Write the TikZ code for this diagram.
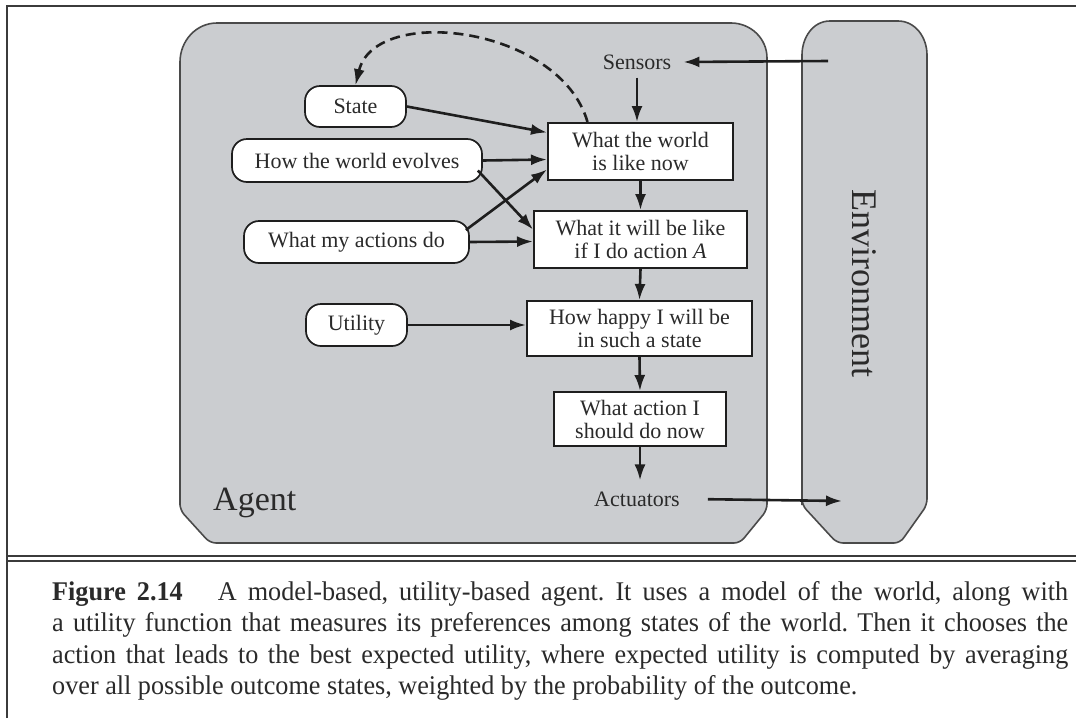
\documentclass[tikz,border=0pt]{standalone}
\usepackage{fontspec}
\setmainfont{Liberation Serif}
\newfontfamily\capfont{Liberation Serif}[FakeStretch=0.97]
\usetikzlibrary{arrows.meta}
\definecolor{agentgray}{HTML}{CBCDD0}
\definecolor{edgegray}{HTML}{4A4A4A}
\definecolor{ink}{HTML}{1E1E1E}
\definecolor{txt}{HTML}{2A2A2A}
\newcommand{\fsbox}{\fontsize{22}{23}\selectfont}
\tikzset{
  procbox/.style={draw=ink, line width=2pt, fill=white, align=center, inner sep=0pt, font=\fsbox, text=txt},
  pill/.style={draw=ink, line width=1.7pt, fill=white, rounded corners=15pt, inner sep=0pt, font=\fsbox, text=txt},
  plain/.style={font=\fsbox, text=txt},
  arr/.style={draw=ink, line width=2.6pt, -{Latex[length=16pt,width=11pt]}},
  frameline/.style={draw=edgegray!80!black, line width=2pt},
  capline/.style={anchor=base west, inner sep=0pt, font=\capfont\fontsize{27}{31.5}\selectfont\frenchspacing, text=txt},
}
\begin{document}
\begin{tikzpicture}[x=1pt,y=-1pt]
\useasboundingbox (0,0) rectangle (1076,718);
% outer frame
\draw[frameline] (7,718) -- (7,6) -- (1076,6);
\draw[frameline] (7,555.5) -- (1076,555.5);
\draw[frameline] (7,560.5) -- (1076,560.5);
% agent region
\draw[draw=edgegray, line width=1.6pt, fill=agentgray]
  (180,505) -- (180,62) to[out=90,in=180] (217,23) -- (731,23) to[out=0,in=90] (767,58)
  [rounded corners=6pt] -- (767,510) -- (740,543) -- (210,543) -- (180,510) [sharp corners] -- cycle;
% environment region
\draw[draw=edgegray, line width=1.6pt, fill=agentgray]
  (802,505) -- (802,55) to[out=90,in=180] (830,21) -- (898,21) to[out=0,in=90] (927,55)
  [rounded corners=6pt] -- (927,505) -- (900,543) -- (837,543) -- (802,505) [sharp corners] -- cycle;
\node[font=\fontsize{36}{36}\selectfont, text=txt, rotate=-90] (envlabel) at (864,283) {Environment};
\node[font=\fontsize{34}{34}\selectfont, text=txt, anchor=base west, inner sep=0pt] (agentlabel) at (213,510) {Agent};
% inner nodes
\node[plain, inner xsep=12pt, inner ysep=8pt] (sensors) at (637,62) {Sensors};
\node[plain, inner xsep=12pt, inner ysep=11pt] (actuators) at (637,499) {Actuators};
\node[procbox, minimum width=185pt, minimum height=57pt] (world) at (640.5,151.5) {What the world\\is like now};
\node[procbox, minimum width=213pt, minimum height=57pt] (willbe) at (640.5,239.5) {What it will be like\\if I do action \textit{A}};
\node[procbox, minimum width=225pt, minimum height=55pt] (happy) at (639.5,328.5) {How happy I will be\\in such a state};
\node[procbox, minimum width=172pt, minimum height=54pt] (action) at (640,419) {What action I\\should do now};
\node[pill, minimum width=101pt, minimum height=41pt] (state) at (355.5,106.5) {State};
\node[pill, minimum width=250pt, minimum height=43pt] (evolves) at (357,160.5) {How the world evolves};
\node[pill, minimum width=225pt, minimum height=42pt] (actions) at (356.5,242) {What my actions do};
\node[pill, minimum width=101pt, minimum height=42pt] (utility) at (356.5,325) {Utility};
\coordinate (envin) at (828,61);
\coordinate (envout) at (842,501);
% connectors
\draw[arr] (envin) -- (sensors.east);
\draw[arr] (sensors.south) -- (sensors.south |- world.north);
\draw[arr] (state.east) -- ([yshift=19pt]world.west);
\draw[arr] (evolves.east) -- ([yshift=-8pt]world.west);
\draw[arr] ([xshift=-5pt,yshift=-10pt]evolves.east) -- ([yshift=10pt]willbe.west);
\draw[arr] ([xshift=-4pt,yshift=12pt]actions.east) -- ([yshift=-18pt]world.west);
\draw[arr] (actions.east) -- ([yshift=-2pt]willbe.west);
\draw[arr] (world.south) -- (willbe.north);
\draw[arr] (willbe.south) -- (happy.north);
\draw[arr] (utility.east) -- (utility.east -| happy.west);
\draw[arr] (happy.south) -- (action.north);
\draw[arr] (action.south) -- (action.south |- actuators.north);
\draw[arr, shorten <=16pt] (actuators.east) -- (envout);
\draw[arr, dash pattern=on 10pt off 6pt] ([xshift=-53pt]world.north) .. controls (560,26) and (375,4) .. (state.north);
% caption
\node[capline] (cap1) at (52,600) {\makebox[1016pt][s]{\textbf{Figure 2.14}\hspace{1.3em}A model-based, utility-based agent. It uses a model of the world, along with}};
\node[capline] (cap2) at (52,631.5) {\makebox[1016pt][s]{a utility function that measures its preferences among states of the world. Then it chooses the}};
\node[capline] (cap3) at (52,663) {\makebox[1016pt][s]{action that leads to the best expected utility, where expected utility is computed by averaging}};
\node[capline] (cap4) at (52,694.5) {over all possible outcome states, weighted by the probability of the outcome.};
\end{tikzpicture}
\end{document}
